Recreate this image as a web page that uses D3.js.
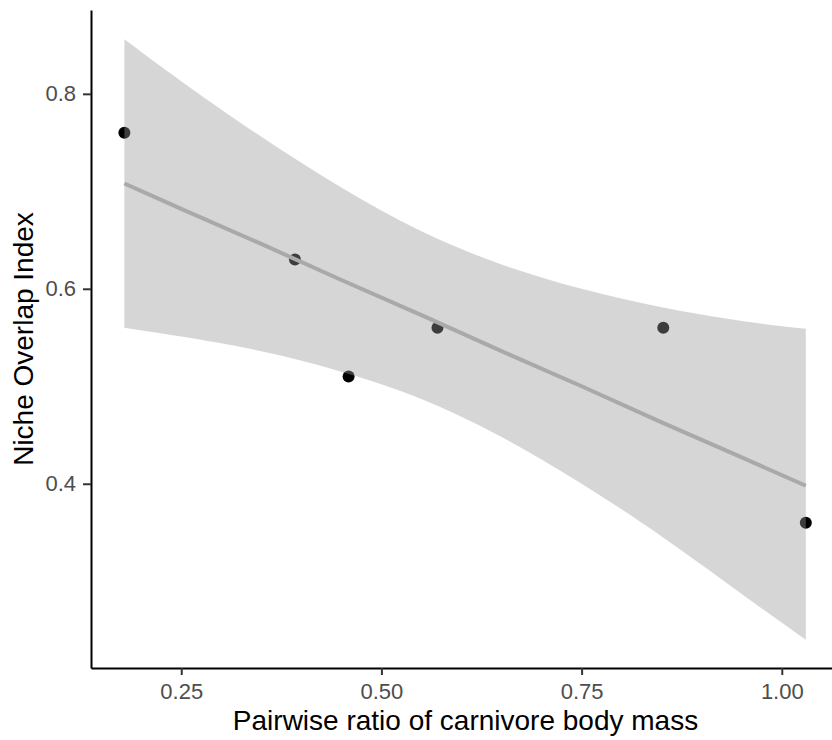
<!DOCTYPE html>
<html>
<head>
<meta charset="utf-8">
<script src="https://cdn.jsdelivr.net/npm/d3@7/dist/d3.min.js"></script>
<style>
  html, body { margin: 0; padding: 0; background: #ffffff; }
  svg { display: block; font-family: "Liberation Sans", Arial, Helvetica, sans-serif; }
</style>
</head>
<body>
<svg id="chart" width="832" height="740"></svg>
<script>
// ---- data ----
const massRatio   = [0.179, 0.392, 0.459, 0.570, 0.852, 1.030];
const nicheOverlap = [0.760, 0.630, 0.510, 0.560, 0.560, 0.360];

// smoother (linear fit) and its 95% confidence band, read at these x positions
const bandX    = [0.179, 0.25, 0.35, 0.45, 0.55, 0.65, 0.75, 0.85, 0.95, 1.030];
const bandFit  = [0.708, 0.682, 0.646, 0.609, 0.573, 0.536, 0.500, 0.463, 0.427, 0.398];
const bandHigh = [0.856, 0.813, 0.756, 0.704, 0.659, 0.625, 0.600, 0.581, 0.567, 0.559];
const bandLow  = [0.560, 0.551, 0.536, 0.515, 0.487, 0.448, 0.400, 0.346, 0.287, 0.240];

const xTicks = [0.25, 0.50, 0.75, 1.00];
const yTicks = [0.4, 0.6, 0.8];

const xTitle = "Pairwise ratio of carnivore body mass";
const yTitle = "Niche Overlap Index";

// ---- layout ----
const svg = d3.select("#chart");
const mLeft = 91, mTop = 10, mRight = 840, mBottom = 668;

const x = d3.scaleLinear().domain([0.1373, 1.0727]).range([mLeft, mRight]);
const y = d3.scaleLinear().domain([0.211, 0.886]).range([mBottom, mTop]);

const points = massRatio.map((v, i) => ({ x: v, y: nicheOverlap[i] }));
const band = bandX.map((v, i) => ({ x: v, fit: bandFit[i], lo: bandLow[i], hi: bandHigh[i] }));

// points (drawn first; ribbon sits on top with transparency, as in the reference)
svg.append("g")
  .selectAll("circle")
  .data(points)
  .join("circle")
  .attr("cx", d => x(d.x))
  .attr("cy", d => y(d.y))
  .attr("r", 6)
  .attr("fill", "#000000");

// confidence ribbon
const area = d3.area()
  .x(d => x(d.x))
  .y0(d => y(d.lo))
  .y1(d => y(d.hi))
  .curve(d3.curveNatural);

svg.append("path")
  .datum(band)
  .attr("d", area)
  .attr("fill", "#999999")
  .attr("fill-opacity", 0.4);

// fitted line
const line = d3.line()
  .x(d => x(d.x))
  .y(d => y(d.fit));

svg.append("path")
  .datum(band)
  .attr("d", line)
  .attr("fill", "none")
  .attr("stroke", "#a9a9a9")
  .attr("stroke-width", 4);

// ---- axes ----
const xAxis = d3.axisBottom(x)
  .tickValues(xTicks)
  .tickFormat(d3.format(".2f"))
  .tickSize(7)
  .tickSizeOuter(0)
  .tickPadding(8);

const yAxis = d3.axisLeft(y)
  .tickValues(yTicks)
  .tickFormat(d3.format(".1f"))
  .tickSize(8)
  .tickSizeOuter(0)
  .tickPadding(7);

const gx = svg.append("g").attr("transform", `translate(0,${mBottom})`).call(xAxis);
const gy = svg.append("g").attr("transform", `translate(${mLeft},0)`).call(yAxis);

[gx, gy].forEach(g => {
  g.select(".domain").attr("stroke", "#000000").attr("stroke-width", 2);
  g.selectAll(".tick line").attr("stroke", "#333333").attr("stroke-width", 2);
  g.selectAll(".tick text")
    .attr("fill", "#4d4d4d")
    .style("font-size", "22px")
    .style("font-family", "'Liberation Sans', Arial, sans-serif");
});

// ---- axis titles ----
svg.append("text")
  .attr("x", (mLeft + mRight) / 2)
  .attr("y", 730)
  .attr("text-anchor", "middle")
  .attr("fill", "#000000")
  .style("font-size", "28px")
  .text(xTitle);

svg.append("text")
  .attr("transform", `translate(33,${(mTop + mBottom) / 2}) rotate(-90)`)
  .attr("text-anchor", "middle")
  .attr("fill", "#000000")
  .style("font-size", "28px")
  .text(yTitle);
</script>
</body>
</html>
